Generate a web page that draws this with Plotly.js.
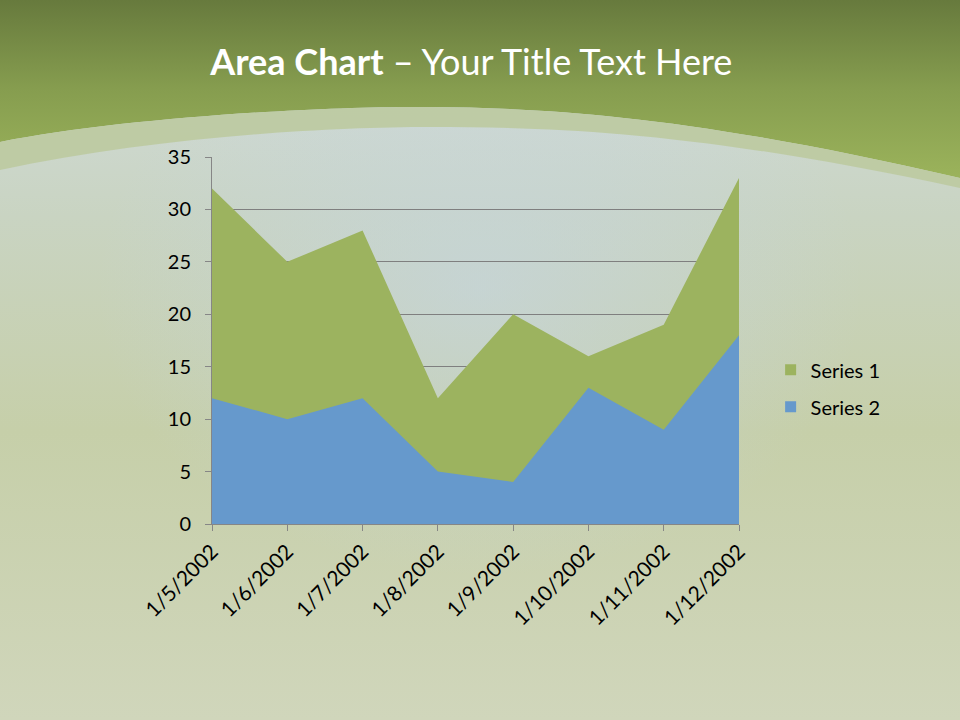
<!DOCTYPE html>
<html>
<head>
<meta charset="utf-8">
<script src="https://cdn.plot.ly/plotly-3.0.1.min.js"></script>
<style>
  html, body { margin:0; padding:0; width:960px; height:720px; overflow:hidden; }
  #bg { position:absolute; left:0; top:0; }
  #chart { position:absolute; left:0; top:0; width:960px; height:720px; }
</style>
</head>
<body>
<svg id="bg" width="960" height="720" xmlns="http://www.w3.org/2000/svg">
  <defs>
    <linearGradient id="hdr" x1="0" y1="0" x2="0" y2="1">
      <stop offset="0" stop-color="#677a3d"/>
      <stop offset="0.5" stop-color="#869d4f"/>
      <stop offset="1" stop-color="#9bb35b"/>
    </linearGradient>
    <linearGradient id="body" x1="0" y1="0" x2="0" y2="1">
      <stop offset="0" stop-color="#d3dde0"/>
      <stop offset="0.3" stop-color="#c9d4c2"/>
      <stop offset="0.6" stop-color="#c6cfa9"/>
      <stop offset="1" stop-color="#d0d6bb"/>
    </linearGradient>
    <radialGradient id="blue" cx="0.5" cy="0.4" r="0.4">
      <stop offset="0" stop-color="#c5d5e3" stop-opacity="0.6"/>
      <stop offset="1" stop-color="#c5d5e3" stop-opacity="0"/>
    </radialGradient>
  </defs>
  <rect x="0" y="0" width="960" height="720" fill="url(#body)"/>
  <rect x="0" y="0" width="960" height="720" fill="url(#blue)"/>
  <path d="M0,0 L960,0 L960,178 C700,118 560,108 430,107 C320,106 120,118 0,142 Z" fill="url(#hdr)"/>
  <path d="M0,142 C120,118 320,106 430,107 C560,108 700,118 960,178 L960,188 C700,132 560,127 430,127 C320,127 150,138 0,170 Z" fill="#bccaa0" fill-opacity="0.9"/>
</svg>
<div id="chart"></div>
<script>
const categories = ["1/5/2002","1/6/2002","1/7/2002","1/8/2002","1/9/2002","1/10/2002","1/11/2002","1/12/2002"];
const series1 = [32, 25, 28, 12, 20, 16, 19, 33];
const series2 = [12, 10, 12, 5, 4, 13, 9, 18];
const yTicks = [0, 5, 10, 15, 20, 25, 30, 35];
const seriesNames = ["Series 1", "Series 2"];
const seriesColors = ["#9cb35f", "#6699cc"];

const traces = [
  { x: categories, y: series1, name: seriesNames[0], type: "scatter", mode: "none",
    fill: "tozeroy", fillcolor: seriesColors[0], legendgroup: "s1", showlegend: false },
  { x: categories, y: series2, name: seriesNames[1], type: "scatter", mode: "none",
    fill: "tozeroy", fillcolor: seriesColors[1], legendgroup: "s2", showlegend: false },
  // legend swatches (square keys, as in the reference legend)
  { x: [null], y: [null], name: seriesNames[0], type: "scatter", mode: "markers",
    marker: { symbol: "square", size: 11, color: seriesColors[0] }, legendgroup: "s1", showlegend: true },
  { x: [null], y: [null], name: seriesNames[1], type: "scatter", mode: "markers",
    marker: { symbol: "square", size: 11, color: seriesColors[1] }, legendgroup: "s2", showlegend: true }
];

const layout = {
  width: 960, height: 720,
  paper_bgcolor: "rgba(0,0,0,0)", plot_bgcolor: "rgba(0,0,0,0)",
  margin: { l: 212, r: 221, t: 157, b: 196, pad: 0 },
  font: { family: "Lato, 'Open Sans', sans-serif", color: "#000" },
  title: {
    text: "<b>Area Chart</b> – Your Title Text Here",
    font: { family: "Lato, 'Open Sans', sans-serif", size: 36, color: "#ffffff" },
    x: 0.492, xanchor: "center", xref: "paper", y: 0.914, yanchor: "middle", yref: "container"
  },
  xaxis: {
    type: "category", range: [0, 7], autorange: false,
    showgrid: false, zeroline: false,
    showline: true, linecolor: "#868686", linewidth: 1,
    ticks: "outside", ticklen: 6, tickcolor: "#868686",
    tickangle: -45, tickfont: { size: 21, color: "#000" }
  },
  yaxis: {
    range: [0, 35], autorange: false,
    tickvals: yTicks, ticktext: yTicks.map(String),
    showgrid: true, gridcolor: "#7f7f7f", gridwidth: 1,
    zeroline: false,
    showline: true, linecolor: "#868686", linewidth: 1,
    ticks: "outside", ticklen: 6, tickcolor: "#868686",
    ticklabelstandoff: 10,
    tickfont: { size: 20, color: "#000" }
  },
  legend: {
    x: 1.06, xanchor: "left", y: 0.37, yanchor: "middle",
    font: { size: 20, color: "#000" }, tracegroupgap: 8,
    itemwidth: 30,
    bgcolor: "rgba(0,0,0,0)", traceorder: "grouped"
  },
  showlegend: true
};

Plotly.newPlot("chart", traces, layout, { displayModeBar: false, staticPlot: true });
</script>
</body>
</html>
